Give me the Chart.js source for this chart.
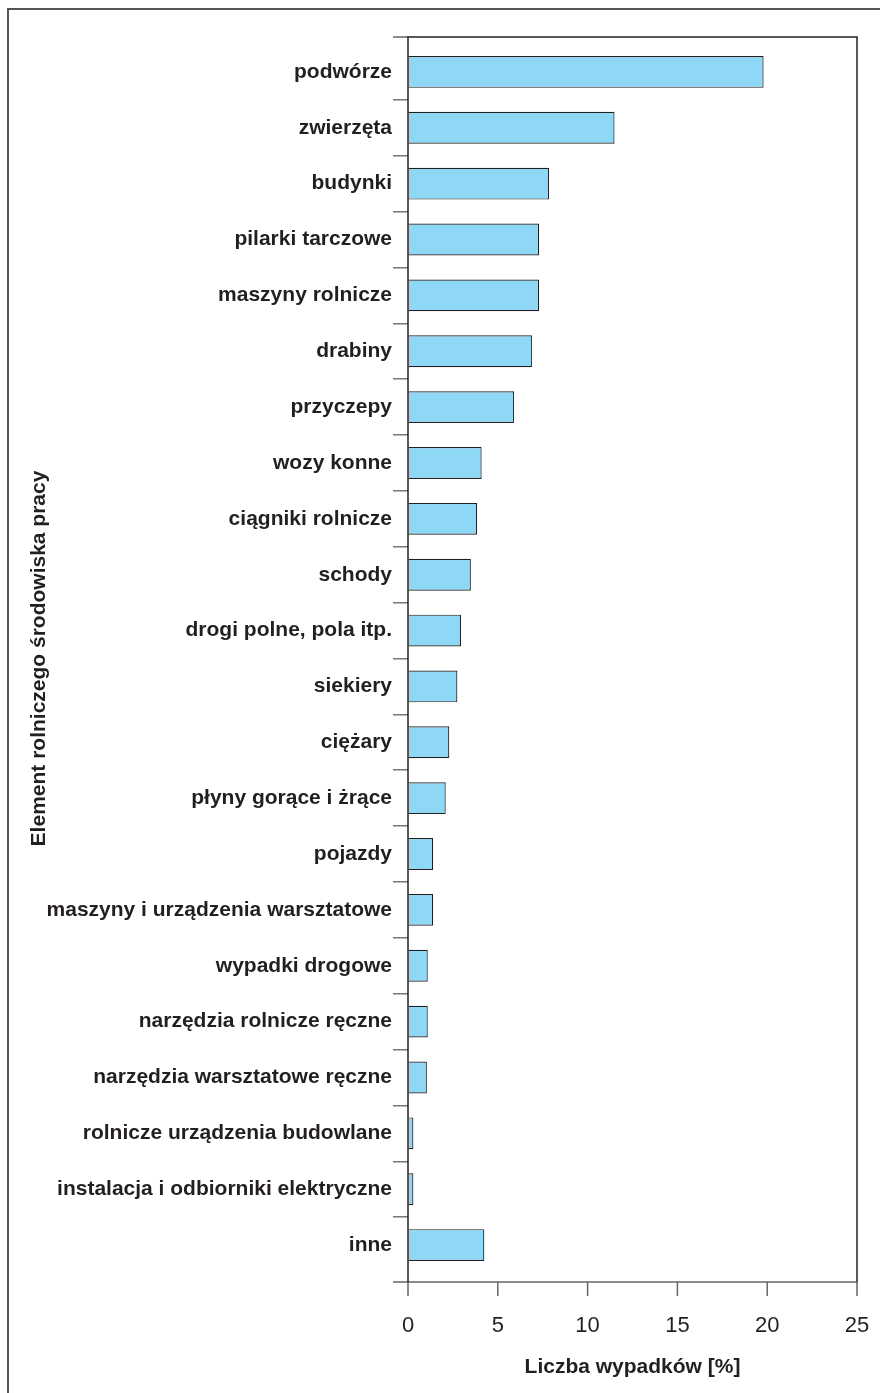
<!DOCTYPE html>
<html>
<head>
<meta charset="utf-8">
<script src="https://cdn.jsdelivr.net/npm/chart.js@4/dist/chart.umd.min.js"></script>
<style>
  html, body { margin: 0; padding: 0; background: #fff; }
  #wrap { width: 880px; height: 1393px; }
</style>
</head>
<body>
<div id="wrap"><canvas id="bar-chart" width="880" height="1393"></canvas></div>
<script>
const categories = [
  'podwórze', 'zwierzęta', 'budynki', 'pilarki tarczowe', 'maszyny rolnicze',
  'drabiny', 'przyczepy', 'wozy konne', 'ciągniki rolnicze', 'schody',
  'drogi polne, pola itp.', 'siekiery', 'ciężary', 'płyny gorące i żrące',
  'pojazdy', 'maszyny i urządzenia warsztatowe', 'wypadki drogowe',
  'narzędzia rolnicze ręczne', 'narzędzia warsztatowe ręczne',
  'rolnicze urządzenia budowlane', 'instalacja i odbiorniki elektryczne', 'inne'
];
const shares = [
  19.8, 11.5, 7.85, 7.3, 7.3,
  6.9, 5.9, 4.1, 3.85, 3.5,
  2.95, 2.75, 2.3, 2.1,
  1.4, 1.4, 1.1,
  1.1, 1.05,
  0.3, 0.3, 4.25
];
const xTicks = [0, 5, 10, 15, 20, 25];

const ink = '#231f20';
const fontFamily = "'Liberation Sans', Arial, Helvetica, sans-serif";

// figure frame, plot box (a bit larger than the category band) and x tick marks
const framePlugin = {
  id: 'frame',
  afterDraw: (chart) => {
    const { ctx, chartArea } = chart;
    const xScale = chart.scales.x;
    const top = chartArea.top - 7;
    const bottom = chartArea.bottom + 9;
    ctx.save();
    ctx.strokeStyle = '#555';
    ctx.lineWidth = 2;
    ctx.beginPath();
    ctx.moveTo(8, 1393);
    ctx.lineTo(8, 9);
    ctx.lineTo(880, 9);
    ctx.stroke();

    ctx.lineWidth = 1.5;
    ctx.strokeStyle = '#666';
    ctx.beginPath();
    ctx.moveTo(chartArea.left - 15, top);
    ctx.lineTo(chartArea.left, top);
    ctx.moveTo(chartArea.left - 15, bottom);
    ctx.lineTo(chartArea.left, bottom);
    xTicks.forEach((v) => {
      const px = xScale.getPixelForValue(v);
      ctx.moveTo(px, bottom);
      ctx.lineTo(px, bottom + 14);
    });
    ctx.moveTo(chartArea.left, bottom);
    ctx.lineTo(chartArea.right, bottom);
    ctx.stroke();

    ctx.strokeStyle = ink;
    ctx.beginPath();
    ctx.moveTo(chartArea.left, bottom);
    ctx.lineTo(chartArea.left, top);
    ctx.lineTo(chartArea.right, top);
    ctx.lineTo(chartArea.right, bottom);
    ctx.stroke();
    ctx.restore();
  },
};

new Chart(document.getElementById('bar-chart'), {
  type: 'bar',
  data: {
    labels: categories,
    datasets: [
      {
        data: shares,
        backgroundColor: '#8ed8f6',
        borderColor: ink,
        borderWidth: 1.2,
        barPercentage: 0.57,
        categoryPercentage: 1,
      },
    ],
  },
  options: {
    indexAxis: 'y',
    responsive: false,
    devicePixelRatio: 1,
    animation: false,
    layout: { padding: { top: 44, right: 23, left: 0, bottom: 0 } },
    plugins: {
      legend: { display: false },
      tooltip: { enabled: false },
    },
    scales: {
      y: {
        type: 'category',
        afterFit: (scale) => {
          scale.width = 408;
          scale.paddingTop = 0;
          scale.paddingBottom = 0;
        },
        grid: {
          offset: true,
          drawOnChartArea: false,
          drawTicks: true,
          tickLength: 15,
          // only the inner category boundaries get a tick
          color: (c) => (c.type !== 'tick' || c.index === 0 ? 'rgba(0,0,0,0)' : '#777'),
          lineWidth: 1.5,
        },
        border: { display: false },
        ticks: {
          color: ink,
          padding: 1,
          font: { family: fontFamily, size: 21, weight: 'bold' },
        },
        title: {
          display: true,
          text: 'Element rolniczego środowiska pracy',
          color: ink,
          padding: { top: 27 },
          font: { family: fontFamily, size: 21, weight: 'bold' },
        },
      },
      x: {
        type: 'linear',
        min: 0,
        max: 25,
        afterFit: (scale) => {
          scale.height = 120;
          scale.paddingLeft = 0;
          scale.paddingRight = 0;
        },
        afterBuildTicks: (scale) => { scale.ticks = xTicks.map((v) => ({ value: v })); },
        grid: {
          drawOnChartArea: false,
          drawTicks: true,
          tickLength: 23,
          color: 'rgba(0,0,0,0)',
        },
        border: { display: false },
        ticks: {
          color: ink,
          padding: 17,
          font: { family: fontFamily, size: 22 },
        },
        title: {
          display: true,
          text: 'Liczba wypadków [%]',
          color: ink,
          padding: { bottom: 13 },
          font: { family: fontFamily, size: 21, weight: 'bold' },
        },
      },
    },
  },
  plugins: [framePlugin],
});
</script>
</body>
</html>
